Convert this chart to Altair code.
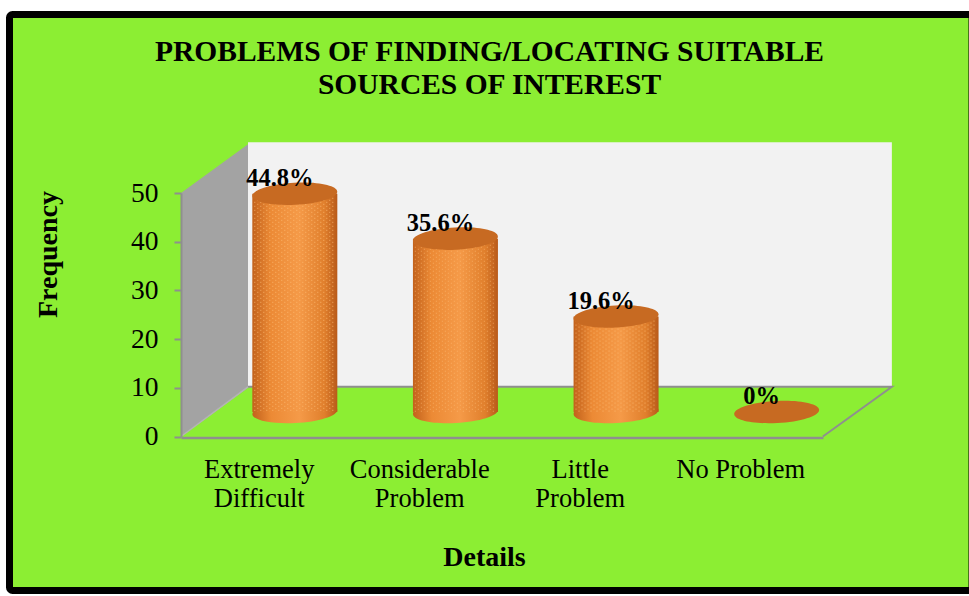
import altair as alt
import pandas as pd

# Survey results
categories = ["Extremely Difficult", "Considerable Problem", "Little Problem", "No Problem"]
shares = [44.8, 35.6, 19.6, 0]
share_labels = ["44.8%", "35.6%", "19.6%", "0%"]
title_lines = ["PROBLEMS OF FINDING/LOCATING SUITABLE", "SOURCES OF INTEREST"]
y_ticks = [0, 10, 20, 30, 40, 50]

FONT = "Liberation Serif"
GREEN = "#8cee33"
GREY = "#8f8f8f"

bars = pd.DataFrame({"category": categories, "share": shares, "label": share_labels})
one_row = pd.DataFrame({"k": [0]})
depths = pd.DataFrame({"depth": [0.0, 1.0]})

# Front plane of the pseudo-3D box, and the plane the cylinders stand on
y_front = alt.Scale(domain=[0, 50], range=[436.5, 193])
y_mid = alt.Scale(domain=[0, 50], range=[412, 168.5])
x_front = alt.Scale(type="band", domain=categories, range=[181, 823], paddingInner=0.47, paddingOuter=0.235)
x_mid = alt.Scale(type="band", domain=categories, range=[214.5, 857], paddingInner=0.47, paddingOuter=0.235)
# One unit of box depth along x
x_depth = alt.Scale(domain=[0, 1], range=[181, 248])

body_fill = alt.Gradient(
    gradient="linear", x1=0, x2=1, y1=0, y2=0,
    stops=[
        alt.GradientStop(offset=0, color="#c2621c"),
        alt.GradientStop(offset=0.22, color="#ec8a35"),
        alt.GradientStop(offset=0.55, color="#f59a48"),
        alt.GradientStop(offset=0.85, color="#e07f2c"),
        alt.GradientStop(offset=1, color="#b85a1a"),
    ],
)
ELLIPSE = "M-1,0C-1,-0.144,-0.552,-0.26,0,-0.26C0.552,-0.26,1,-0.144,1,0C1,0.144,0.552,0.26,0,0.26C-0.552,0.26,-1,0.144,-1,0Z"
x_cyl = alt.X("category:N", scale=x_mid, sort=categories, axis=None)
y_cyl = alt.Y("share:Q", scale=y_mid, axis=None)

frame = alt.Chart(one_row).mark_rect(
    fill=GREEN, stroke="black", strokeWidth=7, cornerRadius=3
).encode(x=alt.value(9.5), x2=alt.value(972), y=alt.value(14.5), y2=alt.value(590.5))

side_wall = alt.Chart(depths).transform_calculate(
    top="50 + datum.depth * 10", bottom="datum.depth * 10"
).mark_area(fill="#a3a3a3").encode(
    x=alt.X("depth:Q", scale=x_depth, axis=None),
    y=alt.Y("top:Q", scale=y_front, axis=None),
    y2="bottom:Q",
)

back_wall = alt.Chart(one_row).transform_calculate(
    x0="1", x1="10.61", y0="60.4", y1="10.2"
).mark_rect(fill="#f2f2f2").encode(
    x=alt.X("x0:Q", scale=x_depth, axis=None),
    x2="x1:Q",
    y=alt.Y("y0:Q", scale=y_front, axis=None),
    y2="y1:Q",
)

floor_edges = alt.Chart(pd.DataFrame({"depth": [1.0, 1.0, 0.0], "order": [0, 1, 2]})).transform_calculate(
    xp="(datum.order == 0 ? 1 : 9.58 + datum.depth * 1.03)", yp="datum.depth * 10.2"
).mark_line(color=GREY, strokeWidth=2).encode(
    x=alt.X("xp:Q", scale=x_depth, axis=None),
    y=alt.Y("yp:Q", scale=y_front, axis=None),
    order="order:O",
)

side_edge = alt.Chart(depths).transform_calculate(
    yp="datum.depth * 10.2"
).mark_line(color="#b4b4b4", strokeWidth=1.5).encode(
    x=alt.X("depth:Q", scale=x_depth, axis=None),
    y=alt.Y("yp:Q", scale=y_front, axis=None),
)

cyl_body = alt.Chart(bars).mark_bar(fill=body_fill, width=85).encode(x=x_cyl, y=y_cyl)
cyl_foot = alt.Chart(bars).transform_filter("datum.share > 0").mark_point(
    shape=ELLIPSE, size=7225, filled=True, fill=body_fill, opacity=1, strokeWidth=0, angle=357
).encode(x=x_cyl, y=alt.Y("zero:Q", scale=y_mid, axis=None)).transform_calculate(zero="0")

# Speckled surface of the cylinders: dashed columns, staggered between neighbours
lanes = list(range(-40, 41, 3))
speckle_rows = pd.DataFrame(
    [{"category": c, "share": s, "lane": i, "odd": idx % 2}
     for c, s in zip(categories, shares) if s > 0
     for idx, i in enumerate(lanes)]
)
lane_scale = alt.Scale(domain=[-42.5, 42.5], range=[0, 85])
def speckle(odd):
    return alt.Chart(speckle_rows).transform_filter(f"datum.odd == {odd}").mark_rule(
        stroke="#ffc27a", strokeWidth=1.2, opacity=0.5, strokeDash=[1.2, 2.8], strokeDashOffset=odd * 2
    ).encode(
        x=x_cyl,
        xOffset=alt.XOffset("lane:Q", scale=lane_scale),
        y=y_cyl,
        y2=alt.Y2(datum=0),
    )

cyl_top = alt.Chart(bars).mark_point(
    shape=ELLIPSE, size=7225, filled=True, fill="#c76a22", opacity=1, strokeWidth=0, angle=357
).encode(x=x_cyl, y=y_cyl)

value_labels = alt.Chart(bars).mark_text(
    font=FONT, fontWeight="bold", fontSize=24.5, color="black", dx=-15, dy=-15
).encode(x=x_cyl, y=y_cyl, text="label:N")

# Carrier layer for the axes, which sit on the front plane of the box
axes = alt.Chart(bars).mark_bar(opacity=0).encode(
    x=alt.X(
        "category:N", scale=x_front, sort=categories,
        axis=alt.Axis(
            title="Details", titleFont=FONT, titleFontSize=28, titleFontWeight="bold", titleColor="black",
            titleX=484, titleY=120, titleBaseline="middle", titleAnchor="middle",
            labelFont=FONT, labelFontSize=26.5, labelColor="black", labelAngle=0,
            labelLineHeight=29, labelPadding=32, labelBaseline="middle", labelOffset=-2,
            labelExpr="datum.label == 'No Problem' ? datum.label : split(datum.label, ' ')",
            ticks=False, domainColor=GREY, domainWidth=2.5, offset=-158.5, zindex=1,
        ),
    ),
    y=alt.Y(
        "share:Q", scale=y_front,
        axis=alt.Axis(
            values=y_ticks, title="Frequency", titleFont=FONT, titleFontSize=28, titleFontWeight="bold",
            titleColor="black", titleX=-119, titleY=254, titleAnchor="middle",
            labelFont=FONT, labelFontSize=27.5, labelColor="black", labelPadding=16,
            tickColor=GREY, tickSize=7, tickWidth=2, domainColor=GREY, domainWidth=2,
            grid=False, offset=-181, zindex=1,
        ),
    ),
)

chart = alt.layer(
    frame, back_wall, side_wall, floor_edges, side_edge,
    cyl_foot, cyl_body, speckle(0), speckle(1), cyl_top, value_labels, axes,
).resolve_scale(x="independent", y="independent").properties(
    width=969,
    height=596,
    padding=0,
    autosize=alt.AutoSizeParams(type="none"),
    background="white",
    title=alt.TitleParams(
        text=title_lines, font=FONT, fontSize=29.5, fontWeight="bold", color="black",
        anchor="middle", lineHeight=33, dx=5, dy=118, baseline="middle",
    ),
).configure_view(stroke=None)

chart.save("out.html", embed_options={"renderer": "svg", "actions": False})
